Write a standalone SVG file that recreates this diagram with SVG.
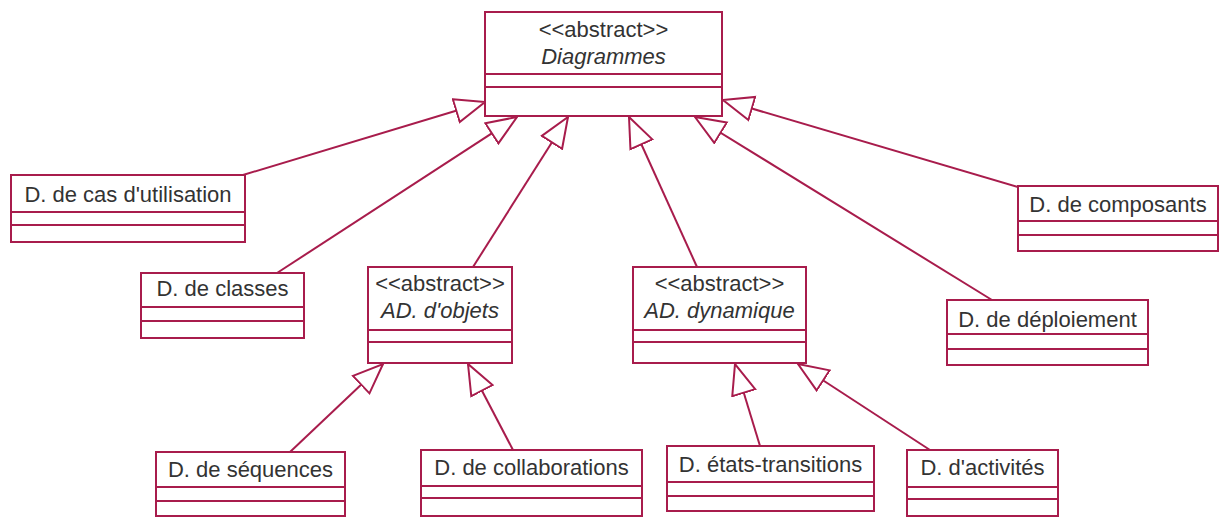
<svg xmlns="http://www.w3.org/2000/svg" width="1221" height="517" viewBox="0 0 1221 517">
<style>
.box{fill:#fff;stroke:#a81c4c;stroke-width:2}
.sep{stroke:#a81c4c;stroke-width:2}
.t{font-family:"Liberation Sans",Arial,sans-serif;font-size:22px;fill:#333;text-anchor:middle}
.i{font-style:italic}
.c line{stroke:#a81c4c;stroke-width:2;fill:none;marker-end:url(#gen)}
</style>
<defs>
<marker id="gen" markerUnits="userSpaceOnUse" markerWidth="36" markerHeight="30" refX="31" refY="14" orient="auto">
<path d="M1,2 L31,14 L1,26 Z" fill="#fff" stroke="#a81c4c" stroke-width="2" stroke-linejoin="miter"/>
</marker>
</defs>
<g id="connectors" class="c">
<line x1="243" y1="175" x2="485" y2="102"/>
<line x1="277" y1="273" x2="517" y2="117"/>
<line x1="473" y1="267" x2="568" y2="117"/>
<line x1="697" y1="267" x2="629" y2="117"/>
<line x1="992" y1="300" x2="695" y2="117"/>
<line x1="1018" y1="187" x2="723" y2="100"/>
<line x1="290" y1="452" x2="383" y2="364"/>
<line x1="513" y1="450" x2="468" y2="364"/>
<line x1="760" y1="446" x2="735" y2="364"/>
<line x1="930" y1="450" x2="798" y2="364"/>
</g>
<g id="diagrammes">
<rect class="box" x="485" y="12" width="237" height="104"/>
<line class="sep" x1="485" y1="74" x2="722" y2="74"/>
<line class="sep" x1="485" y1="87" x2="722" y2="87"/>
<text class="t" x="603.5" y="37">&lt;&lt;abstract&gt;&gt;</text>
<text class="t i" x="603.5" y="64">Diagrammes</text>
</g>
<g id="cas">
<rect class="box" x="11" y="175" width="234" height="67"/>
<line class="sep" x1="11" y1="212" x2="245" y2="212"/>
<line class="sep" x1="11" y1="225" x2="245" y2="225"/>
<text class="t" x="128" y="202">D. de cas d'utilisation</text>
</g>
<g id="classes">
<rect class="box" x="141" y="273" width="163" height="65"/>
<line class="sep" x1="141" y1="307" x2="304" y2="307"/>
<line class="sep" x1="141" y1="321" x2="304" y2="321"/>
<text class="t" x="222.5" y="296">D. de classes</text>
</g>
<g id="objets">
<rect class="box" x="368" y="267" width="144" height="96"/>
<line class="sep" x1="368" y1="330" x2="512" y2="330"/>
<line class="sep" x1="368" y1="342" x2="512" y2="342"/>
<text class="t" x="440" y="291">&lt;&lt;abstract&gt;&gt;</text>
<text class="t i" x="440" y="318">AD. d'objets</text>
</g>
<g id="dynamique">
<rect class="box" x="633" y="267" width="173" height="96"/>
<line class="sep" x1="633" y1="330" x2="806" y2="330"/>
<line class="sep" x1="633" y1="342" x2="806" y2="342"/>
<text class="t" x="719.5" y="291">&lt;&lt;abstract&gt;&gt;</text>
<text class="t i" x="719.5" y="318">AD. dynamique</text>
</g>
<g id="composants">
<rect class="box" x="1018" y="186" width="200" height="65"/>
<line class="sep" x1="1018" y1="221" x2="1218" y2="221"/>
<line class="sep" x1="1018" y1="235" x2="1218" y2="235"/>
<text class="t" x="1118" y="212">D. de composants</text>
</g>
<g id="deploiement">
<rect class="box" x="947" y="300" width="201" height="65"/>
<line class="sep" x1="947" y1="334" x2="1148" y2="334"/>
<line class="sep" x1="947" y1="349" x2="1148" y2="349"/>
<text class="t" x="1047.5" y="327">D. de déploiement</text>
</g>
<g id="sequences">
<rect class="box" x="156" y="452" width="189" height="64"/>
<line class="sep" x1="156" y1="487" x2="345" y2="487"/>
<line class="sep" x1="156" y1="501" x2="345" y2="501"/>
<text class="t" x="250.5" y="477">D. de séquences</text>
</g>
<g id="collaborations">
<rect class="box" x="421" y="450" width="221" height="66"/>
<line class="sep" x1="421" y1="486" x2="642" y2="486"/>
<line class="sep" x1="421" y1="498" x2="642" y2="498"/>
<text class="t" x="531.5" y="475">D. de collaborations</text>
</g>
<g id="etats">
<rect class="box" x="667" y="446" width="207" height="65"/>
<line class="sep" x1="667" y1="482" x2="874" y2="482"/>
<line class="sep" x1="667" y1="496" x2="874" y2="496"/>
<text class="t" x="770.5" y="472">D. états-transitions</text>
</g>
<g id="activites">
<rect class="box" x="907" y="450" width="151" height="66"/>
<line class="sep" x1="907" y1="487" x2="1058" y2="487"/>
<line class="sep" x1="907" y1="499" x2="1058" y2="499"/>
<text class="t" x="982.5" y="475">D. d'activités</text>
</g>
</svg>
